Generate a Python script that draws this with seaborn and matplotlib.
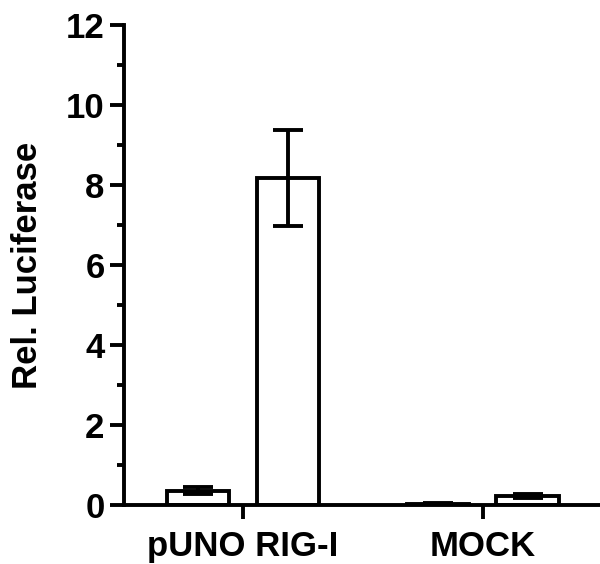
import pandas as pd
import matplotlib
matplotlib.use("Agg")
import matplotlib.pyplot as plt
import seaborn as sns
from matplotlib.ticker import MultipleLocator

# -----------------------------
# Data
# -----------------------------
groups = ["pUNO RIG-I", "pUNO RIG-I", "MOCK", "MOCK"]
conditions = ["ctrl", "stim", "ctrl", "stim"]
means = [0.36, 8.18, 0.03, 0.22]
errors = [0.08, 1.20, 0.01, 0.045]

df = pd.DataFrame({"group": groups, "condition": conditions, "value": means})

sns.set_style("ticks")
plt.rcParams["font.family"] = ["Liberation Sans", "DejaVu Sans"]
plt.rcParams["font.weight"] = "bold"
plt.rcParams["text.color"] = "black"
plt.rcParams["axes.labelcolor"] = "black"
plt.rcParams["xtick.color"] = "black"
plt.rcParams["ytick.color"] = "black"

LW = 2.8

fig = plt.figure(figsize=(6.0, 5.64), dpi=100)
ax = fig.add_axes([0.2067, 0.1046, 0.7933, 0.8511])

sns.barplot(
    data=df, x="group", y="value", hue="condition",
    order=["pUNO RIG-I", "MOCK"], hue_order=["ctrl", "stim"],
    palette=["white", "white"], edgecolor="black", linewidth=LW,
    width=0.75, gap=0.31, errorbar=None, legend=False, ax=ax,
)

# error bars at the bar centres
bars = sorted(ax.patches, key=lambda p: p.get_x())
xs = [b.get_x() + b.get_width() / 2 for b in bars]
ax.errorbar(xs, means, yerr=errors, fmt="none", ecolor="black",
            elinewidth=LW, capsize=11, capthick=LW, zorder=5)

ax.set_xlim(-0.496, 1.49)
ax.set_ylim(0, 12)
ax.yaxis.set_major_locator(MultipleLocator(2))
ax.yaxis.set_minor_locator(MultipleLocator(1))

sns.despine(ax=ax)
for s in ["left", "bottom"]:
    ax.spines[s].set_linewidth(LW)
    ax.spines[s].set_color("black")
ax.spines["left"].set_bounds(0, 12)

ax.tick_params(axis="both", which="major", length=10, width=LW,
               colors="black", labelsize=25, pad=4)
ax.tick_params(axis="y", which="minor", length=5, width=LW, colors="black")
ax.tick_params(axis="x", pad=8)

ax.set_xlabel("")
ax.set_ylabel("Rel. Luciferase", fontsize=25, fontweight="bold",
              labelpad=16, color="black")
for lab in ax.get_xticklabels() + ax.get_yticklabels():
    lab.set_fontweight("bold")
    lab.set_color("black")

fig.savefig("out.png", dpi=100)
